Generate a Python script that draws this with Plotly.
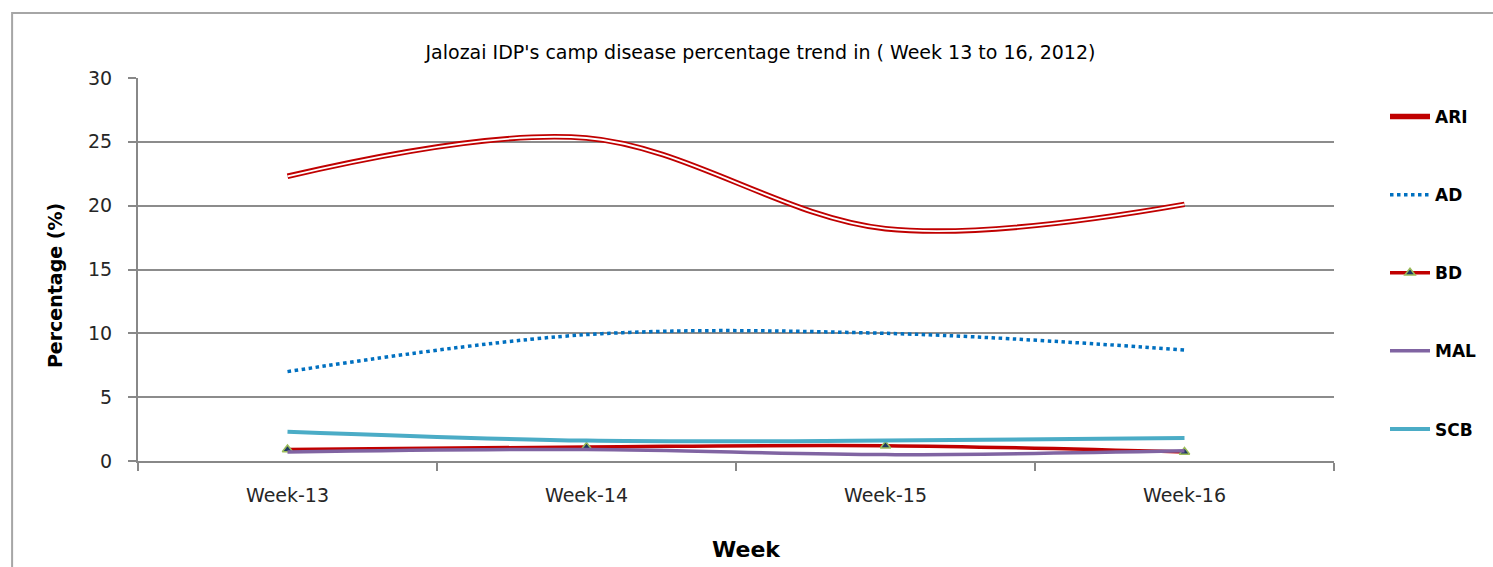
import plotly.graph_objects as go

weeks = ["Week-13", "Week-14", "Week-15", "Week-16"]
ari = [22.3, 25.3, 18.2, 20.1]
ad = [7.0, 9.9, 10.0, 8.7]
bd = [0.9, 1.1, 1.2, 0.7]
mal = [0.7, 0.9, 0.5, 0.8]
scb = [2.3, 1.6, 1.6, 1.8]

W, H = 1493, 567
L, R, T, B = 138, 1335, 78, 461
pw, ph = R - L, B - T

def px(x):
    return (x - L) / pw

def py(y):
    return (B - y) / ph

FONT = "DejaVu Sans"

fig = go.Figure()
fig.add_trace(go.Scatter(x=weeks, y=ari, name="ARI", mode="lines", legendgroup="ARI",
                         line=dict(color="#C00000", width=5.5, shape="spline", smoothing=1)))
fig.add_trace(go.Scatter(x=weeks, y=ari, name="ARI", mode="lines", legendgroup="ARI",
                         showlegend=False, hoverinfo="skip",
                         line=dict(color="white", width=1.8, shape="spline", smoothing=1)))
fig.add_trace(go.Scatter(x=weeks, y=ad, name="AD", mode="lines", legendgroup="AD",
                         line=dict(color="#0070C0", width=3.5, dash="dot", shape="spline", smoothing=1)))
fig.add_trace(go.Scatter(x=weeks, y=bd, name="BD", mode="lines+markers", legendgroup="BD",
                         line=dict(color="#C00000", width=3.5, shape="spline", smoothing=1),
                         marker=dict(symbol="triangle-up", size=9, color="#1F3864",
                                     line=dict(color="#9BBB59", width=1.5))))
fig.add_trace(go.Scatter(x=weeks, y=mal, name="MAL", mode="lines", legendgroup="MAL",
                         line=dict(color="#8064A2", width=3.5, shape="spline", smoothing=1)))
fig.add_trace(go.Scatter(x=weeks, y=scb, name="SCB", mode="lines", legendgroup="SCB",
                         line=dict(color="#4BACC6", width=4, shape="spline", smoothing=1)))

fig.update_layout(
    width=W, height=H,
    margin=dict(l=L, r=W - R, t=T, b=H - B),
    paper_bgcolor="white", plot_bgcolor="white",
    font=dict(family=FONT, color="#262626"),
    showlegend=True,
    legend=dict(x=px(1385), y=py(99), xanchor="left", yanchor="top",
                font=dict(family=FONT, size=17, color="#000000", weight="bold"),
                tracegroupgap=53, bgcolor="rgba(0,0,0,0)", itemwidth=40),
    title=dict(text="Jalozai IDP's camp disease percentage trend in ( Week 13 to 16, 2012)",
               x=px(761), xref="paper", xanchor="center",
               y=1 - 52 / H, yref="container", yanchor="middle",
               font=dict(family=FONT, size=19, color="#000000")),
)

fig.update_xaxes(type="category", range=[-0.5, 3.5], showline=True, linecolor="#888888", linewidth=2,
                 ticks="outside", tickson="boundaries", ticklen=8, tickcolor="#888888", tickwidth=1.5,
                 showgrid=False, zeroline=False, ticklabelstandoff=16,
                 tickfont=dict(family=FONT, size=19, color="#262626"))
fig.update_yaxes(range=[0, 30], dtick=5, showline=True, linecolor="#888888", linewidth=2,
                 ticks="outside", ticklen=8, tickcolor="#888888", tickwidth=1.5,
                 showgrid=True, gridcolor="#8C8C8C", gridwidth=1.5, zeroline=False,
                 ticklabelstandoff=12,
                 tickfont=dict(family=FONT, size=19, color="#262626"))

# outer chart frame (only left and top edges visible in the frame)
fig.add_shape(type="rect", xref="paper", yref="paper",
              x0=px(12), x1=px(1510), y0=py(585), y1=py(13),
              line=dict(color="#A6A6A6", width=2), fillcolor="rgba(0,0,0,0)", layer="below")

fig.add_annotation(text="<b>Percentage (%)</b>", xref="paper", yref="paper",
                   x=px(55), y=py(286), textangle=-90, showarrow=False,
                   xanchor="center", yanchor="middle",
                   font=dict(family=FONT, size=19, color="#000000"))
fig.add_annotation(text="<b>Week</b>", xref="paper", yref="paper",
                   x=px(747), y=py(549), showarrow=False,
                   xanchor="center", yanchor="middle",
                   font=dict(family=FONT, size=22, color="#000000"))

fig.write_html("out.html", config={"displayModeBar": False},
               post_script="document.body.style.margin='0';document.body.style.overflow='hidden';")
